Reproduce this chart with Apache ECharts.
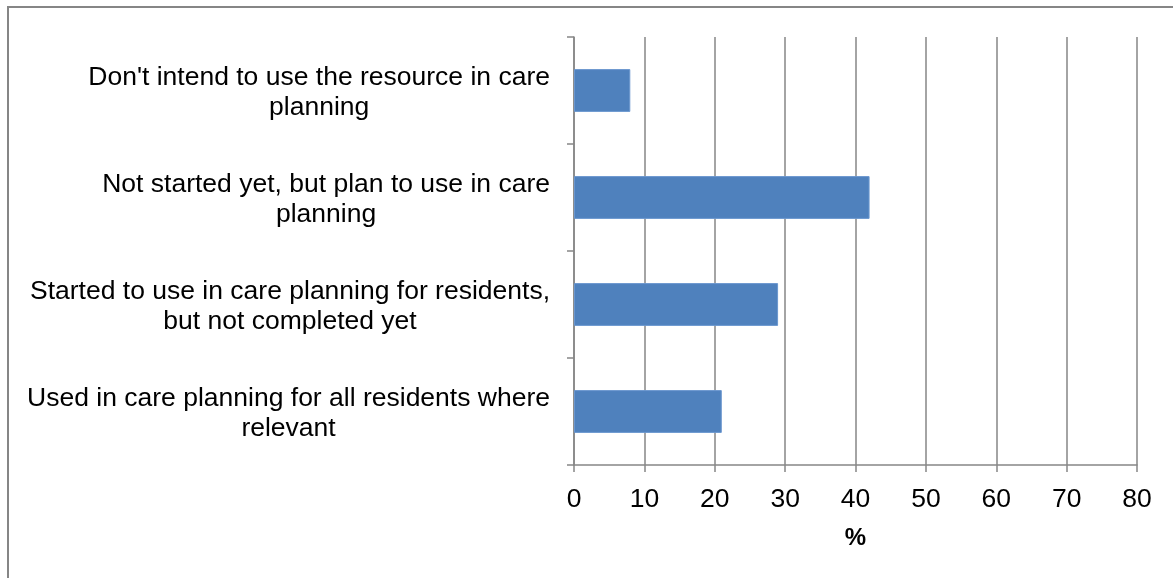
<!DOCTYPE html>
<html>
<head>
<meta charset="utf-8">
<script src="https://cdn.jsdelivr.net/npm/echarts@6/dist/echarts.min.js"></script>
<style>
  html, body { margin: 0; padding: 0; background: #fff; }
  #chart { width: 1173px; height: 578px; }
</style>
</head>
<body>
<div id="chart"></div>
<script>
// Survey responses, listed bottom to top as drawn on the category axis
const categories = [
  'Used in care planning for all residents where\nrelevant',
  'Started to use in care planning for residents,\nbut not completed yet',
  'Not started yet, but plan to use in care\nplanning',
  "Don't intend to use the resource in care\nplanning"
];
const percentages = [21, 29, 42, 8];
const xTicks = { min: 0, max: 80, interval: 10 };
const xAxisTitle = '%';

const FONT = "'Liberation Sans', Arial, sans-serif";
const GRID_GRAY = '#868686';

const chart = echarts.init(document.getElementById('chart'), null, { renderer: 'canvas' });

chart.setOption({
  animation: false,
  backgroundColor: '#ffffff',
  graphic: [{
    type: 'rect',
    shape: { x: 8, y: 7, width: 1200, height: 620 },
    style: { fill: 'none', stroke: GRID_GRAY, lineWidth: 2 },
    silent: true
  }],
  grid: { left: 574, right: 36, top: 37, bottom: 113, containLabel: false },
  xAxis: {
    type: 'value',
    min: xTicks.min,
    max: xTicks.max,
    interval: xTicks.interval,
    name: xAxisTitle,
    nameLocation: 'middle',
    nameGap: 61,
    nameTextStyle: { fontFamily: FONT, fontSize: 24, fontWeight: 'bold', color: '#000' },
    axisLine: { show: true, lineStyle: { color: GRID_GRAY, width: 1.5 } },
    axisTick: { show: true, length: 7, lineStyle: { color: GRID_GRAY, width: 1.5 } },
    axisLabel: { fontFamily: FONT, fontSize: 26.5, color: '#000', margin: 21 },
    splitLine: { show: true, lineStyle: { color: GRID_GRAY, width: 1.5 } }
  },
  yAxis: {
    type: 'category',
    data: categories,
    axisLine: { show: true, lineStyle: { color: GRID_GRAY, width: 1.5 } },
    axisTick: { show: true, length: 7, alignWithLabel: false, lineStyle: { color: GRID_GRAY, width: 1.5 } },
    splitLine: { show: false },
    axisLabel: {
      margin: 24,
      align: 'right',
      padding: [4, 0, 0, 0],
      formatter: v => v.split('\n').map(line => '{t|' + line + '}').join('\n'),
      rich: {
        t: { align: 'center', fontFamily: FONT, fontSize: 26.5, lineHeight: 30, color: '#000' }
      }
    }
  },
  series: [{
    type: 'bar',
    data: percentages,
    barCategoryGap: '60%',
    itemStyle: { color: '#4F81BD', borderColor: '#6b97cf', borderWidth: 1 }
  }]
});
</script>
</body>
</html>
